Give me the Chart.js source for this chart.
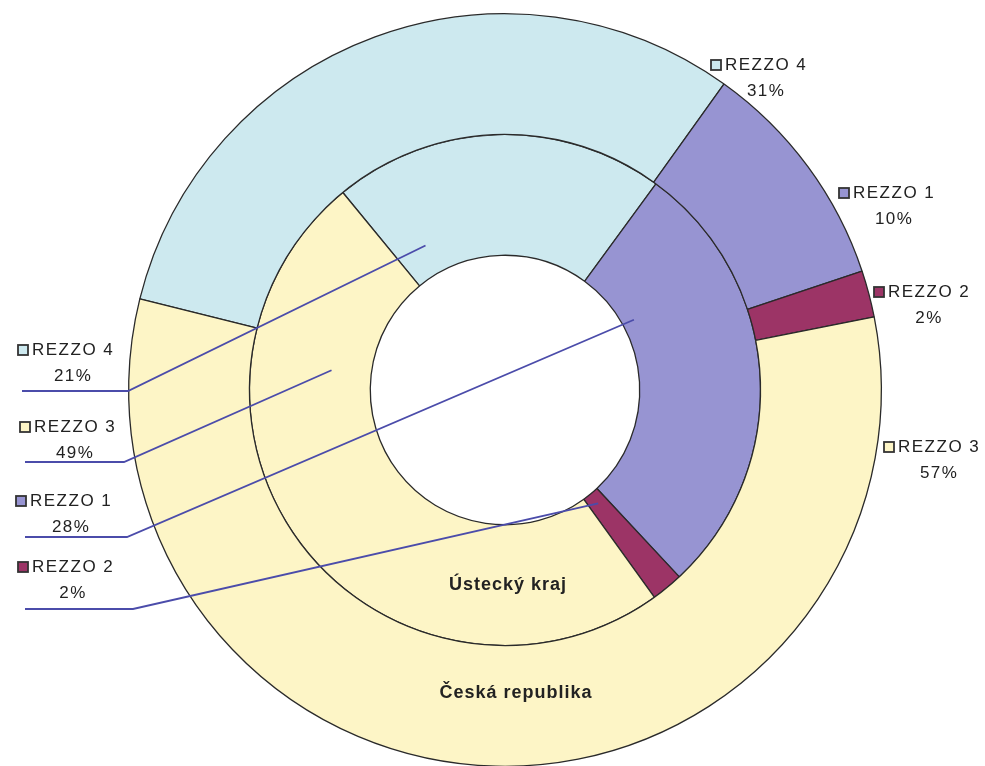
<!DOCTYPE html>
<html>
<head>
<meta charset="utf-8">
<script src="https://cdn.jsdelivr.net/npm/chart.js@4/dist/chart.umd.min.js"></script>
<style>
  html, body { margin: 0; padding: 0; background: #fff; overflow: hidden; }
  #wrap { position: absolute; left: 0; top: 0; width: 985px; height: 780px; }
</style>
</head>
<body>
<div id="wrap"><canvas id="myChart"></canvas></div>
<script>
// REZZO categories, same order in both rings
const categories = ['REZZO 4', 'REZZO 1', 'REZZO 2', 'REZZO 3'];
const ceskaRepublika = [31, 10, 2, 57];   // outer ring
const usteckyKraj = [21, 28, 2, 49];      // inner ring
const sliceColors = ['#cde9ef', '#9794d2', '#9c3466', '#fdf5c6'];

// label boxes: [category index, text left x, first line y]
const outerLabels = [[0, 725, 65], [1, 853, 193], [2, 888, 292], [3, 898, 447]];
const innerLabels = [[0, 32, 350], [3, 34, 427], [1, 30, 501], [2, 32, 567]];
// leader lines for the inner ring: underline y, underline x0, x1, position inside the slice
const innerLeaders = [
    [0, 391, 22, 128, 0.14, 0.25],
    [3, 462, 25, 124, 0.75, 0.33],
    [1, 537, 25, 127, 0.25, 0.10],
    [2, 609, 25, 133, 0.50, 0.10]
];

const FONT = '"Liberation Sans", Arial, sans-serif';

function drawLabel(c, idx, x, y, values) {
    c.save();
    c.font = '17px ' + FONT;
    c.letterSpacing = '1.5px';
    c.textBaseline = 'middle';
    c.textAlign = 'left';
    c.fillStyle = sliceColors[idx];
    c.strokeStyle = '#333';
    c.lineWidth = 1.8;
    c.fillRect(x - 14, y - 5, 10, 10);
    c.strokeRect(x - 14, y - 5, 10, 10);
    c.fillStyle = '#222';
    const txt = categories[idx];
    const w = c.measureText(txt).width;
    c.fillText(txt, x, y);
    c.textAlign = 'center';
    c.fillText(values[idx] + '%', x + w / 2, y + 26);
    c.restore();
}

const labelPlugin = {
    id: 'rezzoLabels',
    afterDatasetsDraw(chart) {
        const c = chart.ctx;
        outerLabels.forEach(l => drawLabel(c, l[0], l[1], l[2], ceskaRepublika));
        innerLabels.forEach(l => drawLabel(c, l[0], l[1], l[2], usteckyKraj));

        // leader lines into the inner ring
        const arcs = chart.getDatasetMeta(1).data;
        c.save();
        c.strokeStyle = '#4b4caa';
        c.lineWidth = 1.8;
        innerLeaders.forEach(ld => {
            const a = arcs[ld[0]].getProps(['x', 'y', 'startAngle', 'endAngle', 'innerRadius', 'outerRadius'], true);
            const ang = a.startAngle + ld[4] * (a.endAngle - a.startAngle);
            const r = a.innerRadius + ld[5] * (a.outerRadius - a.innerRadius);
            c.beginPath();
            c.moveTo(ld[2], ld[1]);
            c.lineTo(ld[3], ld[1]);
            c.lineTo(a.x + r * Math.cos(ang), a.y + r * Math.sin(ang));
            c.stroke();
        });
        c.restore();

        // ring titles
        c.save();
        c.font = 'bold 18px ' + FONT;
        c.letterSpacing = '1px';
        c.fillStyle = '#222';
        c.textAlign = 'center';
        c.textBaseline = 'middle';
        c.fillText('Ústecký kraj', 508, 585);
        c.fillText('Česká republika', 516, 693);
        c.restore();
    }
};

const ctx = document.getElementById('myChart');
let myChart = new Chart(ctx, {
    type: 'doughnut',
    data: {
        labels: categories,
        datasets: [
            {
                label: 'Česká republika',
                data: ceskaRepublika,
                backgroundColor: sliceColors,
                borderColor: '#2a2a2a',
                borderWidth: 1.3,
                rotation: -76
            },
            {
                label: 'Ústecký kraj',
                data: usteckyKraj,
                backgroundColor: sliceColors,
                borderColor: '#2a2a2a',
                borderWidth: 1.3,
                rotation: -39.4
            }
        ]
    },
    options: {
        responsive: true,
        maintainAspectRatio: false,
        animation: false,
        cutout: '35.8%',
        layout: {padding: {left: 128, right: 103, top: 13, bottom: 13}},
        plugins: {
            legend: {display: false},
            tooltip: {enabled: false}
        }
    },
    plugins: [labelPlugin]
});
</script>
</body>
</html>
